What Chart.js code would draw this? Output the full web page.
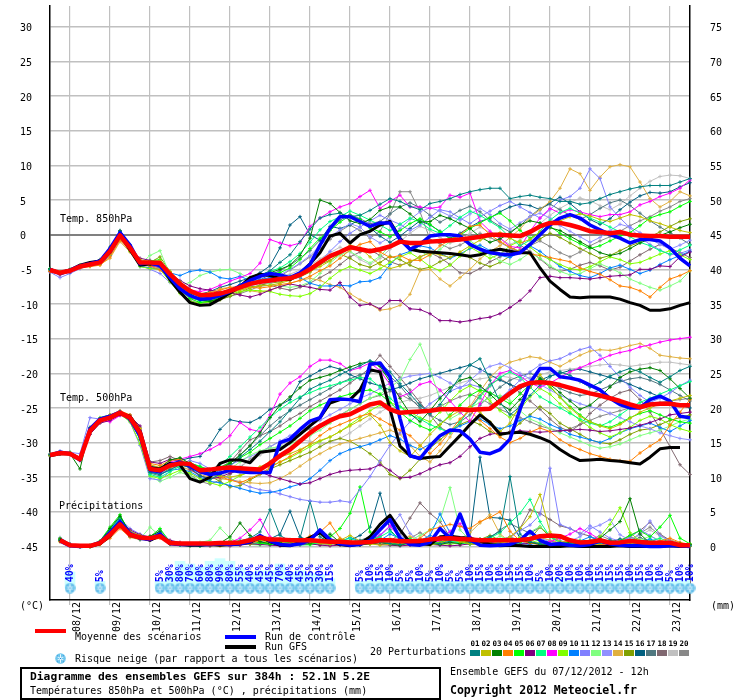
<!DOCTYPE html>
<html><head><meta charset="utf-8">
<script src="https://cdn.jsdelivr.net/npm/chart.js@4.4.1/dist/chart.umd.min.js"></script>
<style>
html,body{margin:0;padding:0;background:#fff;}
body{width:740px;height:700px;position:relative;overflow:hidden;font-family:'DejaVu Sans Mono',monospace;font-size:10px;color:#000;}
#wrap{position:absolute;left:0;top:0;width:740px;height:650px;}
.t{position:absolute;white-space:pre;line-height:12px;font-size:10px;}
.bar{position:absolute;width:31px;height:4px;}
.num{position:absolute;top:639px;width:10px;text-align:center;font-weight:bold;font-size:7.5px;line-height:9px;}
.sw{position:absolute;top:650px;width:10px;height:6px;}
#box{position:absolute;left:20px;top:667px;width:421px;height:33px;border:2px solid #000;box-sizing:border-box;}
</style></head><body>
<div id="wrap"><canvas id="c" width="740" height="650"></canvas></div>
<div class="t" style="left:20px;top:600px">(°C)</div>
<div class="t" style="left:711px;top:600px">(mm)</div>
<div class="bar" style="left:35px;top:629px;background:#ff0000"></div>
<div class="t" style="left:75px;top:631px">Moyenne des scénarios</div>
<div class="bar" style="left:225px;top:635px;background:#0000ff"></div>
<div class="t" style="left:265px;top:631px">Run de contrôle</div>
<div class="bar" style="left:225px;top:645px;background:#000000"></div>
<div class="t" style="left:265px;top:641px">Run GFS</div>
<canvas id="flakeLegend" width="11" height="11" style="position:absolute;left:55px;top:653px"></canvas>
<div class="t" style="left:75px;top:653px">Risque neige (par rapport a tous les scénarios)</div>
<div class="t" style="left:370px;top:646px">20 Perturbations</div>
<div id="pertLegend"></div>
<div id="box"></div>
<div class="t" style="left:30px;top:670px;font-weight:bold;font-size:11.3px;line-height:13px">Diagramme des ensembles GEFS sur 384h : 52.1N 5.2E</div>
<div class="t" style="left:30px;top:685px">Températures 850hPa et 500hPa (°C) , précipitations (mm)</div>
<div class="t" style="left:450px;top:666px">Ensemble GEFS du 07/12/2012 - 12h</div>
<div class="t" style="left:450px;top:684px;font-weight:bold;font-size:11.5px;line-height:13px">Copyright 2012 Meteociel.fr</div>
<script>
// ---------------- DATA ----------------
// time steps: every 6 h from 07/12/2012 12h (0 h) to +384 h
const stepHours = [];
for (let h = 0; h <= 384; h += 6) stepHours.push(h);
const dayLabels = ['08/12','09/12','10/12','11/12','12/12','13/12','14/12','15/12','16/12','17/12','18/12','19/12','20/12','21/12','22/12','23/12'];
const leftTicks = [-45,-40,-35,-30,-25,-20,-15,-10,-5,0,5,10,15,20,25,30];
const rightTicks = [0,5,10,15,20,25,30,35,40,45,50,55,60,65,70,75];
const pertNames = ['01','02','03','04','05','06','07','08','09','10','11','12','13','14','15','16','17','18','19','20'];
const pertColors = ['#008080','#c0c000','#008000','#ff8000','#00ff00','#800080','#00ff80','#ff00ff','#80ff00','#0080ff',
                    '#8080ff','#80ff80','#9090ff','#e0b040','#80a000','#006080','#507880','#806870','#c0c0c0','#888888'];

// snow risk (% of scenarios) per step
const snowPct = [null,null,40,null,null,5,null,null,null,null,null,5,30,80,70,60,80,90,80,55,40,45,45,70,40,45,35,30,15,null,null,
  5,10,15,10,5,5,10,5,10,5,5,10,15,10,10,15,15,10,5,10,20,10,10,10,15,15,15,10,15,10,10,5,10,10];

// Temperature 850 hPa (°C)
const t850Mean = [-5.1,-5.5,-5.2,-4.6,-4.3,-4.0,-2.4,-0.1,-1.9,-4.0,-4.0,-4.1,-5.7,
 -7.1,-8.1,-8.7,-8.7,-8.5,-8.1,-7.6,-7.1,-6.8,-6.6,-6.4,-6.3,-5.8,
 -5.0,-4.0,-3.1,-2.5,-1.8,-2.1,-2.4,-2.1,-1.7,-1.0,-1.2,-1.2,-1.0,
 -0.9,-0.8,-0.7,-0.5,-0.3,0.0,0.0,-0.1,-0.2,0.4,1.2,1.7,1.7,
 1.4,1.0,0.5,0.4,0.2,0.4,0.0,-0.1,-0.2,-0.2,-0.3,-0.3,-0.3];
const t850Ctrl = [-5.0,-5.6,-5.1,-4.5,-4.2,-3.8,-2.0,0.3,-1.5,-4.2,-4.0,-4.5,-6.2,
 -7.8,-8.8,-9.3,-9.2,-8.8,-8.2,-7.4,-6.6,-6.0,-5.6,-5.8,-6.2,-5.5,
 -4.3,-1.5,0.9,2.6,2.6,1.9,1.2,1.7,1.7,-0.7,-2.1,-1.4,-0.2,
 0.0,0.0,-0.2,-1.4,-2.1,-2.6,-2.8,-2.9,-2.6,-1.4,0.0,1.4,2.4,
 2.9,2.4,1.4,0.7,0.0,-0.5,-1.2,-0.7,-0.7,-0.9,-1.9,-3.4,-4.5];
const t850Gfs = [-5.0,-5.5,-5.1,-4.4,-4.0,-3.8,-2.5,0.0,-2.2,-4.4,-4.2,-4.3,-6.5,
 -8.3,-9.8,-10.2,-10.1,-9.3,-8.4,-7.5,-6.2,-5.7,-5.9,-6.3,-6.5,-5.6,
 -4.2,-2.6,-0.2,0.2,-1.2,0.0,0.5,1.4,1.9,-0.5,-2.1,-2.4,-2.5,
 -2.6,-2.7,-2.9,-3.1,-2.9,-2.4,-2.1,-2.4,-2.6,-2.6,-4.8,-6.7,-7.9,
 -9.0,-9.1,-9.0,-9.0,-9.0,-9.3,-9.8,-10.2,-10.9,-10.9,-10.7,-10.2,-9.8];
const t850Members = [
 [-5.0,-5.6,-5.3,-4.5,-4.2,-3.9,-2.0,0.4,-1.7,-3.8,-4.1,-4.3,-6.0, -7.4,-8.4,-9.0,-8.9,-8.6,-8.0,-7.2,-6.5,-5.9,-5.2,-4.0,-2.9,-1.0,
  0.8,2.4,2.9,3.1,2.6,2.8,3.5,4.4,5.2,4.8,4.1,3.6,4.5, 4.8,5.2,5.8,6.2,6.5,6.7,6.7,5.2,5.5,5.7,5.4,5.2,4.8, 4.8,4.4,4.6,5.2,5.8,6.2,6.6,6.9,7.1,7.1,7.1,7.6,8.1],
 [-5.2,-5.4,-5.1,-4.7,-4.5,-4.2,-2.8,-0.5,-2.2,-3.6,-3.9,-3.7,-5.3, -6.8,-7.9,-8.6,-8.9,-8.8,-8.5,-8.0,-7.6,-7.4,-7.3,-7.0,-6.6,-6.0,
  -5.3,-4.6,-3.8,-2.6,-1.5,-1.9,-3.2,-4.3,-4.9,-4.5,-3.9,-3.2,-2.6, -2.9,-3.3,-2.5,-1.6,-0.8,-0.2,0.3,-0.5,-1.2,-0.7,0.4,1.3,2.0, 2.6,3.0,2.7,2.2,1.9,2.4,2.9,2.6,2.0,1.6,1.1,0.6,0.3],
 [-4.9,-5.5,-5.2,-4.6,-4.1,-3.6,-1.8,0.5,-1.5,-4.1,-4.3,-4.0,-5.5, -7.0,-8.5,-9.4,-9.6,-9.2,-8.4,-7.5,-6.6,-5.9,-5.5,-5.0,-4.4,-3.0,
  -0.5,5.0,4.5,3.2,2.0,1.6,2.2,3.5,4.0,4.0,3.0,1.8,1.9, 2.8,2.3,1.6,0.9,-0.3,-1.1,-0.6,0.2,1.4,2.0,1.7,1.0,0.6, -0.2,-1.0,-1.8,-2.6,-3.0,-2.7,-2.0,-1.2,-0.6,-0.1,0.4,1.0,1.5],
 [-5.3,-5.7,-5.3,-4.8,-4.6,-4.4,-3.2,-0.8,-2.3,-4.2,-4.5,-5.1,-6.2, -7.5,-8.3,-8.6,-8.4,-8.0,-7.6,-7.5,-7.6,-7.7,-7.5,-7.2,-7.0,-6.6,
  -6.0,-5.2,-4.5,-3.4,-2.2,-1.4,-1.0,-2.5,-3.3,-3.0,-3.7,-3.7,-2.9, -1.6,-0.8,0.0,1.2,1.4,0.0,-1.0,-1.8,-2.5,-2.8,-3.0,-3.3,-3.6, -3.9,-4.8,-5.3,-5.7,-6.5,-7.4,-7.6,-8.1,-9.0,-7.6,-6.4,-5.9,-5.2],
 [-5.1,-5.4,-5.0,-4.4,-4.2,-3.8,-2.2,0.2,-1.8,-3.9,-3.8,-3.6,-5.6, -7.8,-9.2,-9.8,-9.6,-9.0,-8.2,-7.4,-6.6,-6.0,-5.6,-5.5,-4.8,-3.6,
  -2.0,-0.5,0.6,1.8,2.8,2.2,1.0,0.4,-0.3,0.6,1.6,2.3,1.5, 0.4,-0.6,-0.1,0.9,1.7,2.5,3.1,2.0,0.6,-0.5,0.3,1.2,0.2, -0.6,-1.3,-2.0,-1.6,-0.9,-0.2,0.3,1.3,2.4,2.9,3.3,4.1,4.8],
 [-5.3,-5.8,-5.4,-4.6,-4.4,-4.1,-2.7,-0.6,-2.1,-3.4,-3.7,-4.2,-5.6, -6.6,-7.4,-7.8,-8.0,-8.3,-8.4,-8.7,-9.0,-8.6,-8.0,-7.5,-7.1,-7.4,
  -7.6,-7.9,-8.0,-6.9,-9.0,-10.2,-10.0,-10.7,-9.5,-9.5,-10.7,-10.8,-11.4, -12.4,-12.4,-12.6,-12.4,-12.1,-11.9,-11.4,-10.5,-9.5,-8.1,-6.2,-6.0,-6.2, -6.2,-6.3,-6.4,-6.2,-6.0,-5.9,-5.8,-5.0,-5.0,-4.5,-4.6,-3.2,-2.5],
 [-5.0,-5.5,-5.1,-4.5,-4.3,-3.9,-2.1,0.3,-1.6,-4.3,-4.2,-4.4,-6.1, -7.6,-8.9,-9.6,-9.4,-8.9,-8.2,-7.3,-6.4,-5.8,-5.3,-4.8,-3.9,-2.7,
  -1.1,0.7,1.9,2.6,3.4,2.8,2.1,1.4,0.6,1.5,2.4,1.8,0.8, 0.2,1.3,2.5,3.4,2.8,1.9,1.0,-0.4,-1.6,-0.8,0.5,2.1,3.2, 3.8,3.1,2.4,1.8,1.1,0.4,-0.3,-1.1,-1.6,-2.3,-2.8,-2.2,-1.5],
 [-5.2,-5.6,-5.2,-4.7,-4.4,-4.0,-2.6,-0.3,-2.0,-4.1,-4.4,-4.6,-6.0, -7.2,-8.0,-8.2,-7.9,-7.3,-6.7,-6.2,-5.6,-4.1,-0.7,-1.2,-1.6,-1.2,
  1.2,2.4,3.3,4.0,4.5,5.5,6.4,3.8,4.8,5.7,4.0,4.0,3.8, 4.0,5.7,5.4,6.0,1.9,0.5,-0.5,-1.7,-1.9,0.5,2.4,3.8,3.1, 3.6,3.3,2.9,2.6,2.9,2.9,3.3,4.3,4.8,5.5,6.0,6.7,7.9],
 [-5.0,-5.4,-5.1,-4.6,-4.3,-4.1,-2.5,-0.2,-2.4,-4.6,-4.9,-5.0,-6.8, -8.5,-9.6,-9.9,-9.7,-9.2,-8.6,-8.2,-8.0,-8.1,-8.2,-8.6,-8.8,-8.9,
  -8.5,-7.6,-6.3,-5.2,-4.6,-5.1,-5.6,-4.9,-4.0,-3.2,-2.6,-3.5,-4.6, -5.2,-4.4,-3.1,-1.8,-2.6,-3.4,-2.8,-1.6,-0.9,-1.8,-2.9,-3.6,-4.3, -4.9,-5.1,-4.6,-3.9,-3.2,-3.6,-4.2,-4.0,-3.4,-2.8,-2.3,-2.9,-3.6],
 [-5.1,-5.5,-5.3,-4.7,-4.5,-4.3,-3.0,-0.6,-2.3,-4.6,-4.8,-5.0,-5.5, -5.9,-5.3,-5.1,-5.4,-6.2,-6.4,-6.0,-6.6,-6.5,-6.2,-6.1,-6.0,-6.2,
  -7.0,-7.4,-7.4,-7.3,-7.4,-6.8,-6.7,-6.2,-4.3,-2.9,-2.4,-1.6,-1.9, -2.7,-3.4,-2.8,-2.0,-1.5,-2.3,-3.0,-3.3,-2.5,-1.6,-2.4,-3.5,-4.6, -5.3,-5.9,-6.2,-5.6,-4.8,-4.4,-5.0,-5.6,-5.1,-4.3,-3.6,-3.0,-2.4],
 [-5.4,-6.2,-5.6,-4.9,-4.4,-4.2,-2.6,-0.4,-2.1,-4.4,-5.0,-5.6,-6.9, -8.0,-8.9,-9.3,-9.0,-8.6,-8.1,-7.7,-7.4,-7.0,-6.9,-6.6,-6.2,-5.9,
  -5.2,-3.9,-2.4,-1.0,0.2,1.1,2.0,2.8,2.1,1.5,0.6,1.4,2.5, 3.6,3.3,2.4,1.6,2.6,3.4,4.2,4.8,4.0,3.2,2.4,3.6,5.0, 5.5,6.7,9.5,8.1,4.0,2.4,1.0,-0.4,-1.4,-2.2,-2.9,-2.7,-2.2],
 [-5.0,-5.4,-5.0,-4.5,-4.2,-3.9,-2.3,0.0,-2.0,-4.3,-3.0,-2.3,-5.8, -7.3,-6.9,-5.9,-5.4,-5.1,-5.0,-5.6,-6.3,-6.8,-7.1,-7.4,-7.6,-7.4,
  -6.8,-5.6,-4.1,-2.9,-2.4,-3.3,-4.1,-3.1,-1.6,-0.7,-1.2,-2.4,-3.1, -2.1,-1.0,-0.2,-0.9,-1.8,-2.9,-3.8,-4.3,-3.6,-2.6,-3.4,-4.5,-5.3, -5.8,-5.6,-4.9,-4.2,-4.8,-5.5,-6.4,-7.0,-7.6,-8.0,-7.4,-6.7,-5.2],
 [-5.2,-5.6,-5.2,-4.5,-4.1,-3.7,-2.2,0.1,-1.9,-3.8,-4.0,-4.2,-5.9, -7.7,-9.0,-9.4,-9.0,-8.4,-7.8,-7.2,-6.9,-6.5,-6.2,-5.8,-5.0,-4.1,
  -3.0,-1.6,-0.3,0.7,1.6,1.1,-0.3,-1.2,-0.4,0.9,2.2,3.3,3.9, 3.4,2.7,2.1,3.0,3.8,2.9,1.6,0.8,1.7,2.6,3.1,2.4,1.3, 0.5,-0.3,-1.1,-0.4,0.6,1.5,1.1,0.3,-0.6,-1.4,-2.1,-1.5,-0.8],
 [-5.1,-5.5,-5.2,-4.7,-4.5,-4.3,-3.4,-1.0,-2.5,-4.0,-4.2,-4.5,-6.3, -7.6,-8.5,-8.7,-8.3,-7.8,-7.6,-7.8,-8.1,-8.3,-8.0,-7.5,-7.0,-6.6,
  -6.3,-6.6,-7.2,-7.6,-8.5,-9.4,-10.0,-10.9,-10.7,-10.2,-8.6,-5.2,-5.0, -6.4,-7.4,-6.2,-5.0,-3.5,-2.4,-1.6,-0.4,0.8,2.5,3.6,4.8,6.7, 9.5,8.8,6.4,8.3,9.8,10.1,9.8,7.6,5.2,4.0,4.8,6.2,5.6],
 [-5.0,-5.5,-5.1,-4.6,-4.4,-4.0,-2.4,-0.2,-2.2,-4.2,-4.0,-3.2,-5.3, -7.2,-8.8,-9.5,-9.7,-9.4,-8.9,-8.3,-7.7,-7.3,-7.0,-6.8,-6.5,-6.1,
  -5.4,-4.3,-3.7,-2.8,-3.4,-4.3,-4.7,-4.0,-3.1,-3.6,-4.4,-5.0,-4.7, -3.9,-3.3,-2.6,-3.3,-4.1,-4.6,-4.0,-3.1,-2.2,-1.4,-0.6,0.2,-0.4, -1.2,-2.0,-2.7,-3.4,-3.0,-2.3,-1.6,-1.1,-0.3,0.4,1.2,1.9,2.3],
 [-4.9,-5.4,-5.1,-4.5,-4.3,-4.0,-2.2,0.6,-1.5,-3.9,-4.1,-4.4,-6.0, -7.3,-8.3,-8.6,-8.2,-7.6,-7.2,-6.7,-6.2,-5.5,-4.5,-1.9,1.4,2.6,
  0.0,-0.8,1.2,0.9,1.4,2.2,1.0,-0.2,-1.1,-0.2,0.9,2.0,1.4, 0.5,-0.5,0.2,1.1,1.9,2.4,3.3,4.0,4.4,4.2,3.6,4.6,5.4, 4.5,3.3,2.2,1.5,2.3,3.6,4.7,5.6,6.1,6.0,6.2,6.9,7.5],
 [-5.1,-5.6,-5.3,-4.6,-4.2,-3.8,-2.0,0.5,-1.6,-4.0,-4.3,-4.4,-6.4, -8.1,-9.1,-9.5,-9.4,-8.9,-8.4,-7.7,-7.1,-6.5,-5.8,-5.2,-4.4,-3.4,
  -2.3,-0.8,0.8,2.1,2.9,2.3,1.6,1.9,3.0,4.0,4.6,3.9,2.8, 1.8,2.6,3.5,4.1,3.3,2.1,1.2,0.4,1.3,2.6,3.8,4.4,3.6, 2.8,2.2,2.9,3.8,4.6,5.0,4.2,3.1,2.0,1.1,0.3,-0.5,-1.4],
 [-5.2,-5.7,-5.3,-4.7,-4.4,-4.0,-2.6,-0.4,-2.2,-4.3,-4.5,-4.7,-6.3, -7.8,-8.9,-9.1,-8.8,-8.4,-8.0,-7.8,-7.5,-7.4,-7.3,-7.7,-8.0,-7.6,
  -7.0,-6.2,-5.4,-4.3,-3.2,-2.5,-2.2,-3.0,-3.9,-4.4,-4.0,-3.2,-2.6, -3.3,-4.3,-5.5,-5.6,-4.9,-3.9,-3.2,-2.3,-1.5,-2.4,-3.5,-4.7,-5.3, -5.0,-4.4,-4.0,-4.5,-5.1,-4.7,-3.8,-2.9,-2.1,-1.4,-1.9,-2.6,-3.3],
 [-5.0,-5.5,-5.2,-4.6,-4.3,-4.0,-2.5,-0.3,-2.1,-4.5,-4.7,-4.9,-6.5, -8.0,-9.3,-9.8,-9.6,-9.1,-8.5,-7.9,-7.2,-6.7,-6.3,-6.0,-5.7,-5.1,
  -4.4,-3.5,-2.6,-1.8,-2.5,-3.6,-4.3,-3.4,-2.1,-1.0,0.2,1.2,0.6, -0.4,-1.2,-0.8,0.2,1.1,0.3,-0.6,-1.4,-0.8,0.4,1.6,2.8,3.8, 4.6,5.3,4.9,4.2,3.6,4.4,5.6,6.7,7.7,8.4,8.6,8.5,8.1],
 [-5.2,-5.6,-5.2,-4.5,-4.3,-3.9,-2.3,-0.1,-1.8,-4.1,-4.5,-4.8,-6.6, -8.3,-9.5,-9.9,-9.7,-9.3,-8.9,-8.5,-8.0,-7.4,-6.7,-6.0,-5.1,-4.2,
  -3.2,-2.0,-0.7,0.5,1.4,0.6,-0.5,0.5,3.0,6.2,6.2,3.3,-0.7, -1.3,-2.0,-1.5,-0.7,0.2,-0.4,-1.1,-1.9,-2.4,-1.6,-0.9,-1.7,-2.6, -3.2,-2.5,-1.6,-0.9,-0.3,0.5,1.3,2.0,2.6,3.4,4.0,4.8,5.2]
];

// Temperature 500 hPa (°C)
const t500Mean = [-31.8,-31.5,-31.6,-32.4,-28.3,-26.8,-26.4,-25.7,-26.4,-28.6,-33.8,
 -34.0,-33.3,-33.0,-33.1,-34.0,-33.9,-33.7,-33.6,-33.7,-33.8,-33.9,
 -33.0,-31.9,-31.0,-29.8,-28.6,-27.6,-26.8,-26.2,-25.9,-25.2,-24.5,
 -24.2,-25.2,-25.7,-25.6,-25.5,-25.4,-25.2,-25.2,-25.2,-25.3,-25.2,
 -25.1,-24.0,-22.9,-21.9,-21.4,-21.3,-21.4,-21.7,-22.1,-22.5,-22.9,
 -23.2,-23.6,-24.0,-24.5,-24.9,-24.5,-24.4,-24.4,-24.6,-24.6];
const t500Ctrl = [-31.8,-31.4,-31.6,-32.5,-28.0,-26.6,-26.2,-25.6,-26.6,-29.0,-34.0,
 -34.2,-33.2,-32.8,-33.4,-34.2,-34.6,-34.4,-34.0,-34.2,-34.3,-34.3,
 -34.3,-30.0,-29.5,-28.1,-26.9,-26.4,-23.8,-23.7,-23.8,-24.1,-18.7,
 -18.5,-20.5,-26.5,-31.9,-32.3,-30.5,-29.0,-28.2,-28.3,-29.5,-31.4,
 -31.6,-31.0,-29.5,-25.2,-21.4,-19.3,-19.3,-20.5,-20.7,-21.0,-21.7,
 -22.4,-23.6,-24.5,-25.0,-25.0,-23.8,-23.3,-24.0,-26.2,-26.4];
const t500Gfs = [-31.9,-31.6,-31.6,-32.3,-28.4,-26.9,-26.3,-25.8,-26.2,-28.4,-33.6,
 -33.8,-33.0,-33.2,-35.2,-35.7,-35.0,-33.0,-32.5,-32.5,-32.9,-31.4,
 -31.2,-31.0,-30.0,-28.8,-27.6,-26.4,-24.3,-23.8,-23.8,-22.4,-19.5,
 -19.8,-25.2,-30.5,-31.9,-32.3,-32.1,-32.0,-30.5,-29.0,-27.4,-26.0,
 -27.1,-28.8,-28.6,-28.5,-28.8,-29.3,-29.9,-31.0,-31.9,-32.6,-32.5,
 -32.4,-32.6,-32.7,-32.9,-33.1,-32.1,-30.9,-30.7,-30.7,null];
const t500Members = [
 [-31.7,-31.4,-31.5,-32.3,-28.0,-26.6,-26.2,-25.5,-26.8,-29.5,-34.3, -34.6,-33.9,-33.2,-33.6,-34.8,-35.3,-34.6,-33.4,-32.1,-31.0,-29.8,
  -28.4,-27.0,-25.3,-23.6,-22.3,-21.6,-21.0,-20.2,-19.5,-18.9,-18.2, -18.6,-19.8,-21.5,-23.0,-24.6,-25.8,-24.5,-22.6,-20.4,-18.8,-17.9,
  -21.0,-24.2,-26.0,-24.8,-23.2,-21.7,-20.5,-19.8,-20.3,-21.2,-22.0, -21.3,-20.4,-19.8,-19.3,-19.8,-20.6,-21.3,-20.5,-19.6,-19.0],
 [-31.8,-31.6,-31.7,-32.5,-28.6,-27.0,-26.5,-25.8,-26.2,-28.0,-33.2, -33.6,-33.0,-32.8,-33.4,-34.3,-34.6,-34.8,-35.0,-34.7,-34.2,-33.5,
  -32.8,-32.1,-31.6,-31.0,-30.3,-29.7,-29.2,-28.4,-27.6,-26.8,-26.0, -27.5,-30.0,-31.2,-32.0,-30.5,-28.8,-27.4,-26.2,-25.4,-24.8,-25.6,
  -27.0,-28.4,-27.2,-24.6,-22.0,-20.2,-21.8,-23.5,-25.0,-26.2,-27.0, -27.6,-28.0,-27.4,-26.5,-25.6,-25.0,-24.4,-24.0,-23.6,-23.2],
 [-31.9,-31.6,-31.6,-33.8,-27.8,-26.7,-26.3,-25.8,-26.5,-28.9,-33.9, -33.7,-32.5,-32.2,-33.0,-33.9,-34.4,-33.8,-33.0,-31.8,-30.5,-28.6,
  -26.4,-24.6,-23.4,-22.1,-21.0,-20.6,-20.2,-19.6,-19.1,-18.6,-18.3, -19.0,-21.2,-23.6,-25.8,-27.0,-25.4,-23.6,-22.1,-21.0,-20.6,-21.8,
  -23.0,-24.4,-25.3,-23.8,-22.0,-20.8,-21.6,-22.8,-24.0,-25.2,-24.6, -23.4,-22.0,-20.6,-19.8,-19.4,-19.2,-19.6,-20.8,-22.2,-23.6],
 [-31.8,-31.5,-31.5,-32.3,-28.5,-26.5,-26.0,-25.4,-26.0,-28.0,-33.0, -33.3,-32.6,-32.4,-33.3,-34.0,-34.5,-34.9,-35.4,-35.8,-35.2,-34.5,
  -33.6,-32.8,-32.0,-31.2,-30.2,-29.0,-28.0,-27.4,-26.8,-26.2,-25.8, -26.6,-27.4,-28.2,-29.0,-30.4,-31.6,-30.2,-28.4,-26.6,-25.4,-26.8,
  -28.0,-29.2,-30.0,-29.4,-28.5,-27.9,-28.4,-29.6,-30.4,-31.0,-31.6, -32.0,-32.4,-32.6,-32.7,-31.5,-30.5,-29.6,-27.5,-25.6,-23.8],
 [-31.7,-31.5,-31.4,-32.2,-28.2,-26.4,-26.0,-25.6,-26.6,-29.0,-34.0, -34.2,-33.4,-32.7,-32.9,-33.5,-34.0,-33.6,-32.9,-32.2,-31.4,-30.3,
  -29.4,-28.5,-27.6,-26.5,-25.4,-24.6,-24.0,-23.4,-23.0,-22.6,-22.4, -23.0,-24.2,-25.6,-26.8,-27.6,-28.2,-27.4,-26.0,-24.6,-23.2,-22.4,
  -22.8,-23.6,-24.4,-23.0,-21.6,-20.8,-22.0,-23.4,-24.8,-26.0,-27.0, -27.5,-27.8,-27.2,-26.4,-25.8,-25.4,-26.0,-26.6,-27.0,-27.2],
 [-31.9,-31.6,-31.7,-32.6,-28.8,-27.2,-26.8,-26.0,-26.2,-27.6,-32.8, -33.0,-32.4,-32.6,-33.8,-34.8,-35.2,-35.0,-34.4,-34.0,-33.8,-34.2,
  -34.8,-35.2,-35.6,-36.0,-35.8,-35.2,-34.6,-34.2,-34.0,-33.9,-33.8, -33.2,-34.0,-35.1,-35.0,-34.5,-33.8,-33.2,-32.9,-32.0,-30.6,-29.4,
  -28.8,-28.6,-28.5,-28.3,-28.4,-28.5,-28.4,-28.3,-28.2,-28.1,-28.2, -28.4,-28.3,-28.1,-27.9,-27.5,-27.1,-26.6,-26.0,-25.8,-25.6],
 [-31.8,-31.4,-31.5,-32.4,-28.4,-26.9,-26.5,-25.9,-26.7,-29.3,-34.6, -35.0,-34.2,-33.4,-33.0,-33.4,-34.0,-33.2,-32.0,-30.6,-29.2,-27.8,
  -26.4,-25.2,-24.2,-23.4,-22.8,-22.2,-21.8,-21.4,-21.0,-20.6,-20.8, -22.0,-23.6,-24.8,-26.0,-26.6,-27.4,-28.0,-28.6,-27.0,-25.2,-23.4,
  -21.8,-20.6,-19.8,-20.6,-22.0,-23.4,-24.2,-25.0,-25.8,-26.6,-27.2, -27.6,-27.0,-26.0,-25.0,-24.2,-23.6,-23.0,-22.4,-21.8,-21.2],
 [-31.8,-31.5,-31.6,-32.4,-28.2,-26.8,-27.0,-26.1,-26.3,-28.4,-33.6, -33.8,-32.8,-32.4,-32.0,-31.6,-31.0,-30.2,-29.0,-27.1,-28.1,-28.4,
  -26.0,-23.0,-21.4,-20.5,-19.0,-18.1,-18.1,-18.6,-19.6,-19.2,-18.5, -19.6,-21.6,-23.4,-22.8,-21.6,-21.2,-22.4,-24.0,-25.6,-27.0,-24.4,
  -21.8,-20.0,-19.6,-20.4,-21.4,-22.0,-21.4,-20.6,-19.8,-19.2,-18.6, -18.0,-17.4,-17.0,-16.7,-16.2,-15.9,-15.5,-15.2,-15.0,-14.8],
 [-31.7,-31.5,-31.5,-32.3,-28.4,-26.8,-26.4,-25.9,-27.0,-30.2,-34.8, -35.2,-34.6,-34.0,-34.4,-35.2,-35.8,-36.2,-35.6,-34.8,-34.2,-33.8,
  -33.4,-32.8,-32.2,-31.4,-30.6,-29.8,-29.2,-28.4,-27.4,-26.4,-25.4, -24.6,-24.2,-24.8,-25.6,-26.4,-27.0,-25.6,-24.0,-22.6,-21.8,-22.6,
  -24.0,-25.4,-26.4,-25.2,-23.4,-22.2,-23.0,-24.4,-25.6,-26.8,-27.8, -28.6,-29.2,-28.6,-27.8,-26.8,-26.2,-26.6,-27.4,-28.0,-28.4],
 [-31.8,-31.5,-31.6,-32.4,-28.5,-26.9,-26.5,-25.8,-26.4,-28.8,-34.2, -34.6,-34.0,-33.8,-34.2,-35.0,-35.6,-35.8,-36.2,-36.6,-37.0,-37.3,
  -37.2,-36.9,-36.4,-36.0,-35.2,-34.0,-32.6,-31.6,-31.0,-30.6,-30.2, -29.6,-29.0,-29.5,-30.4,-31.0,-30.2,-29.0,-28.3,-27.6,-27.0,-26.6,
  -27.4,-28.0,-27.6,-26.8,-26.2,-26.6,-27.4,-28.0,-28.8,-29.2,-29.6, -30.0,-29.4,-28.6,-28.0,-27.6,-27.2,-27.8,-28.4,-27.6,-26.8],
 [-31.6,-31.2,-31.4,-31.6,-26.4,-26.6,-26.2,-25.6,-27.0,-30.4,-35.2, -35.4,-34.2,-33.0,-32.6,-33.0,-33.8,-34.6,-35.2,-35.8,-36.4,-36.8,
  -37.0,-37.4,-37.8,-38.2,-38.4,-38.6,-38.6,-38.4,-38.6,-36.8,-34.9, -32.6,-30.4,-28.6,-27.0,-25.6,-24.4,-23.4,-22.6,-22.0,-21.6,-22.0,
  -22.8,-23.6,-22.4,-21.0,-19.8,-18.8,-18.2,-17.9,-17.2,-16.6,-16.2, -17.4,-19.0,-20.6,-22.0,-23.2,-24.2,-23.6,-22.8,-21.8,-21.0],
 [-31.8,-31.5,-31.5,-32.3,-28.1,-26.7,-26.3,-25.7,-26.6,-29.6,-34.9, -35.6,-35.0,-34.3,-34.8,-35.6,-35.4,-34.6,-33.8,-32.8,-31.8,-31.2,
  -30.8,-30.6,-30.2,-29.6,-29.0,-28.2,-27.2,-26.2,-25.2,-24.4,-23.6, -23.0,-22.0,-21.0,-18.0,-15.8,-19.4,-23.8,-26.6,-25.8,-25.0,-24.2,
  -23.6,-23.2,-24.0,-25.4,-26.6,-27.2,-28.0,-28.6,-29.2,-29.8,-30.4, -30.8,-30.6,-30.2,-29.6,-29.0,-28.6,-28.2,-27.6,-27.0,-26.6],
 [-31.8,-31.6,-31.6,-32.4,-28.6,-27.0,-26.6,-25.9,-26.2,-28.2,-33.4, -33.6,-33.0,-32.8,-33.2,-33.8,-34.2,-33.8,-33.2,-32.6,-32.0,-31.4,
  -30.6,-29.8,-29.0,-28.2,-27.6,-26.8,-26.0,-25.2,-24.4,-23.6,-23.0, -22.2,-21.4,-20.8,-20.4,-20.2,-20.0,-20.6,-21.4,-22.2,-21.0,-19.8,
  -19.0,-18.6,-19.2,-20.0,-20.8,-21.6,-22.4,-23.2,-23.8,-24.4,-24.8, -25.2,-25.8,-26.4,-27.0,-27.6,-28.0,-28.6,-29.0,-29.4,-29.6],
 [-31.8,-31.5,-31.5,-32.3,-28.2,-26.7,-26.2,-26.0,-26.8,-29.0,-34.0, -34.3,-33.7,-33.4,-34.0,-34.6,-35.0,-35.2,-35.4,-35.6,-35.8,-35.9,
  -35.8,-35.2,-34.4,-33.4,-32.4,-31.6,-30.8,-30.2,-29.8,-29.4,-29.0, -28.6,-28.2,-28.8,-30.4,-32.0,-32.8,-31.2,-29.2,-27.0,-24.8,-22.6,
  -20.6,-19.2,-18.4,-18.0,-17.6,-17.8,-18.4,-19.0,-18.2,-17.4,-16.8, -16.6,-16.7,-16.4,-16.0,-15.7,-16.4,-17.4,-17.6,-17.8,-17.9],
 [-31.7,-31.5,-31.6,-32.5,-28.4,-26.8,-26.4,-25.6,-26.4,-28.5,-33.6, -34.0,-33.4,-33.2,-33.6,-34.2,-34.8,-35.6,-36.4,-36.2,-35.4,-34.6,
  -33.8,-33.2,-32.6,-32.0,-31.4,-30.6,-29.8,-29.4,-29.8,-30.6,-31.6, -32.8,-34.6,-35.2,-34.0,-32.4,-30.8,-29.6,-28.4,-27.4,-26.8,-27.4,
  -28.4,-29.0,-28.4,-27.2,-26.0,-24.8,-25.8,-27.2,-28.0,-28.8,-29.6, -30.0,-30.2,-29.6,-28.8,-28.2,-28.0,-27.4,-26.8,-26.4,-26.0],
 [-31.8,-31.5,-31.5,-32.4,-28.3,-26.7,-26.3,-25.6,-26.4,-28.7,-33.8, -34.0,-33.4,-32.6,-32.2,-32.0,-30.4,-28.1,-26.7,-27.0,-27.1,-26.4,
  -25.2,-24.6,-23.8,-21.2,-20.4,-19.6,-19.0,-19.4,-20.2,-20.8,-21.4, -21.8,-22.4,-22.0,-21.4,-20.8,-20.4,-20.0,-19.6,-19.2,-18.8,-19.4,
  -20.2,-21.0,-21.6,-22.2,-21.6,-21.0,-20.4,-20.0,-19.6,-19.4,-19.8, -20.2,-20.6,-21.0,-21.6,-22.2,-22.8,-23.4,-24.0,-24.6,-25.0],
 [-31.8,-31.5,-31.6,-32.4,-28.2,-26.9,-26.4,-25.7,-26.5,-28.7,-34.4, -34.8,-33.6,-32.8,-33.2,-34.0,-34.6,-34.0,-33.0,-31.8,-30.4,-29.0,
  -27.6,-26.4,-25.4,-24.6,-23.8,-23.0,-22.2,-21.4,-20.8,-20.2,-19.8, -19.6,-20.4,-21.8,-23.6,-25.0,-26.0,-26.8,-27.4,-27.0,-26.0,-24.6,
  -23.2,-22.0,-21.0,-20.4,-20.0,-20.6,-21.4,-22.2,-22.8,-23.2,-23.0, -22.4,-21.8,-21.2,-20.8,-20.6,-21.0,-21.6,-22.4,-23.2,-24.0],
 [-31.8,-31.6,-31.6,-32.5,-28.8,-27.0,-26.6,-25.8,-26.0,-27.8,-32.8, -32.6,-32.0,-32.6,-33.4,-34.0,-34.4,-33.6,-32.8,-31.2,-29.6,-29.0,
  -28.4,-27.6,-26.6,-25.8,-24.8,-24.0,-23.2,-22.4,-21.4,-20.4,-19.2, -17.4,-19.0,-20.6,-22.4,-24.2,-26.0,-27.8,-28.6,-27.0,-25.0,-23.2,
  -21.6,-20.8,-21.6,-22.8,-24.0,-25.2,-26.6,-27.8,-28.4,-27.4,-25.8, -24.6,-23.6,-22.8,-22.4,-23.8,-25.6,-28.0,-30.6,-33.2,-34.6],
 [-31.7,-31.4,-31.5,-32.3,-28.1,-26.6,-26.2,-25.5,-26.6,-29.1,-34.2, -34.5,-33.8,-33.4,-33.9,-34.8,-35.2,-34.8,-34.2,-33.4,-32.6,-31.8,
  -31.0,-30.4,-29.8,-29.6,-29.8,-30.2,-30.0,-29.4,-28.6,-27.6,-26.6, -25.6,-24.8,-24.2,-23.8,-23.6,-23.2,-22.6,-22.0,-21.4,-21.0,-20.8,
  -20.6,-20.4,-20.6,-21.0,-20.6,-20.2,-19.8,-19.6,-19.4,-19.2,-19.0, -18.8,-18.7,-18.8,-19.0,-18.8,-18.6,-18.4,-18.4,-18.6,-18.8],
 [-31.8,-31.5,-31.6,-32.4,-28.4,-26.8,-26.6,-25.8,-26.5,-28.9,-34.0, -34.0,-33.2,-33.6,-34.6,-35.6,-36.0,-35.4,-34.6,-33.6,-32.4,-31.4,
  -30.6,-29.8,-29.4,-28.8,-28.0,-27.4,-26.8,-26.0,-25.2,-24.4,-23.6, -23.2,-22.6,-23.0,-23.8,-24.6,-25.4,-24.8,-24.0,-23.4,-23.0,-23.6,
  -24.4,-25.2,-25.8,-26.4,-27.0,-27.6,-28.0,-28.4,-28.0,-27.4,-26.8, -26.2,-25.8,-25.4,-25.0,-24.6,-24.4,-24.2,-24.0,-23.8,-23.6]
];

// Precipitation (mm per 6 h)
const prMean = [null,0.9,0.2,0.1,0.1,0.5,1.7,3.2,1.7,1.3,1.2,1.5,0.5,
 0.45,0.45,0.45,0.45,0.5,0.5,0.6,0.9,1.3,1.0,1.0,0.9,0.9,
 0.9,0.8,0.7,0.7,0.6,0.6,0.65,0.9,0.9,0.8,0.75,0.8,1.0,
 1.15,1.2,1.1,1.0,0.9,0.9,0.9,0.9,0.95,1.1,1.5,1.6,1.5,
 0.9,0.6,0.65,0.9,0.55,0.6,0.8,0.65,0.55,0.55,0.55,0.2,0.2];
const prCtrl = [null,0.8,0.1,0.0,0.1,0.6,2.0,3.6,1.9,1.2,1.0,1.8,0.4,
 0.3,0.3,0.3,0.3,0.4,0.3,0.4,0.7,1.6,0.8,0.3,0.2,0.4,
 0.9,2.4,1.0,0.4,0.2,0.3,0.9,2.4,3.9,1.2,0.3,0.2,0.6,
 2.6,1.2,4.7,1.0,0.2,0.1,0.2,0.3,0.9,2.2,0.9,0.3,0.4,
 0.2,0.1,0.3,0.8,0.4,0.2,0.1,0.1,0.0,0.0,0.1,0.1,0.0];
const prGfs = [null,1.0,0.2,0.0,0.0,0.4,1.5,3.4,1.6,1.4,0.9,1.6,0.5,
 0.3,0.2,0.2,0.3,0.2,0.3,0.4,0.6,1.4,0.7,0.2,0.1,0.6,
 1.3,2.0,0.8,0.3,0.1,0.4,1.4,3.2,4.5,2.4,0.6,0.4,0.3,
 1.4,1.5,1.3,1.2,0.8,0.3,0.1,0.2,0.1,0.0,0.0,0.0,0.0,
 0.1,0.0,0.0,0.0,0.0,0.1,0.0,0.0,0.0,0.0,0.1,0.0,0.0];
const prMembers = [
 [null,0.9,0.2,0.1,0.0,0.6,2.2,3.9,1.5,1.0,1.3,1.9,0.4, 0.3,0.2,0.1,0.2,0.4,0.3,0.5,1.2,2.1,5.3,1.6,0.8,1.2,
  6.5,1.4,0.6,0.3,0.5,0.8,1.0,0.6,0.4,0.3,0.5,0.9,0.6, 0.4,0.8,1.2,0.6,0.9,1.4,2.2,10.1,1.8,0.7,0.4,0.3,0.6, 0.4,0.2,0.3,0.6,0.9,0.5,0.2,0.1,0.3,0.6,0.4,0.2,0.1],
 [null,0.7,0.1,0.0,0.1,0.4,1.8,3.3,2.2,1.6,1.1,1.4,0.6, 0.4,0.3,0.2,0.1,0.2,0.4,0.6,0.9,1.1,0.6,0.3,0.2,0.4,
  0.7,0.5,0.3,0.9,1.6,0.8,0.4,0.2,0.3,0.9,0.6,0.3,0.2, 0.5,1.0,0.7,0.4,0.2,0.3,0.8,1.4,2.6,4.3,7.5,2.1,0.6, 0.3,0.2,0.4,0.2,0.1,0.3,0.5,0.8,0.4,0.2,0.3,0.1,0.0],
 [null,1.1,0.3,0.1,0.1,0.7,2.6,4.4,2.0,1.3,1.5,2.2,0.5, 0.3,0.2,0.2,0.3,0.5,1.4,3.4,1.6,0.7,0.4,0.6,1.0,0.8,
  0.5,0.9,1.8,0.6,0.3,0.2,0.4,0.6,0.3,0.2,0.5,0.8,0.4, 0.3,0.6,0.4,0.8,1.1,0.5,0.2,0.4,0.9,0.6,0.3,0.2,0.4, 0.6,0.3,0.5,1.2,2.4,3.6,6.9,1.8,0.5,0.3,0.2,0.4,0.3],
 [null,0.8,0.2,0.0,0.0,0.3,1.2,2.6,1.4,1.1,0.9,1.2,0.7, 0.5,0.4,0.3,0.2,0.1,0.2,0.3,0.5,0.8,1.2,0.6,0.4,0.9,
  1.5,2.1,3.4,1.2,0.6,0.3,0.5,1.0,0.7,0.4,0.6,1.2,2.4, 2.8,3.2,2.9,2.6,3.6,4.2,5.0,2.2,0.8,0.5,0.3,0.4,0.6, 0.8,0.5,0.3,0.2,0.4,0.6,0.3,0.2,0.5,0.8,1.2,0.6,0.3],
 [null,1.0,0.2,0.1,0.2,0.8,2.8,4.6,1.8,1.2,1.4,2.6,0.6, 0.3,0.2,0.1,0.2,0.3,0.4,0.6,0.9,0.5,0.3,0.4,0.6,0.5,
  0.3,0.8,1.4,2.6,4.8,8.6,2.1,0.7,0.4,0.6,1.1,0.5,0.3, 0.6,1.0,0.7,0.4,0.8,0.5,0.3,0.2,0.6,1.2,0.8,0.4,0.3, 0.2,0.4,0.6,0.9,0.5,0.8,1.6,2.3,1.4,2.8,4.5,1.2,0.4],
 [null,0.9,0.2,0.0,0.1,0.5,2.0,3.6,2.4,1.7,1.2,1.8,0.9, 0.6,0.4,0.3,0.2,0.2,0.1,0.2,0.4,0.3,0.2,0.1,0.2,0.3,
  0.4,0.2,0.1,0.2,0.3,0.2,0.5,0.3,0.2,0.1,0.2,0.4,0.3, 0.2,0.1,0.2,0.4,0.3,0.6,0.4,0.2,0.3,0.5,0.3,0.2,0.1, 0.2,0.3,0.1,0.2,0.4,0.2,0.1,0.3,0.2,0.1,0.2,0.1,0.0],
 [null,0.8,0.1,0.0,0.1,0.6,2.3,4.1,1.9,1.4,1.0,1.6,0.4, 0.2,0.3,0.4,0.3,0.2,0.5,0.9,0.6,0.3,0.5,0.8,0.4,0.2,
  0.3,0.6,0.4,0.8,1.2,0.6,0.9,1.4,2.2,1.0,0.5,0.3,0.6, 1.1,0.8,0.5,0.3,0.6,1.2,2.0,3.4,4.8,6.8,3.6,1.4,0.6, 0.4,0.8,0.6,0.4,0.9,0.6,0.3,0.5,0.8,1.2,0.6,0.3,0.2],
 [null,0.9,0.3,0.1,0.1,0.5,2.1,3.8,2.0,1.5,1.3,1.7,0.5, 0.3,0.2,0.2,0.1,0.3,0.6,1.2,2.4,3.9,1.4,0.6,0.3,0.2,
  0.4,0.8,0.5,0.3,0.6,0.4,0.9,1.6,3.0,1.2,0.4,0.3,0.6, 0.8,2.2,3.3,1.4,0.6,0.4,0.3,0.5,0.8,0.6,0.4,0.7,1.2, 1.8,2.6,1.9,1.0,0.6,0.4,0.3,0.2,0.5,0.7,0.4,0.2,0.1],
 [null,1.2,0.3,0.1,0.0,0.4,1.6,3.0,1.7,1.2,1.0,1.4,0.3, 0.2,0.1,0.1,0.2,0.4,0.8,0.5,0.3,0.4,0.7,1.0,0.6,0.4,
  0.5,0.3,0.6,1.1,0.7,0.4,0.6,1.0,0.8,0.5,0.3,0.4,0.7, 0.5,0.3,0.6,0.9,0.5,0.3,0.5,0.8,1.3,0.9,0.5,0.3,0.4, 0.6,0.9,0.5,1.4,3.2,5.6,2.0,0.8,0.4,0.3,0.5,0.3,0.2],
 [null,0.8,0.2,0.0,0.1,0.6,2.4,4.2,2.2,1.6,1.4,2.0,0.5, 0.3,0.2,0.2,0.3,0.4,0.3,0.6,1.0,0.7,0.4,0.3,0.5,0.7,
  0.9,0.6,0.4,0.7,1.3,0.8,0.5,0.9,1.8,1.2,0.6,0.8,1.6, 4.7,2.0,0.8,1.2,0.7,0.4,0.6,0.9,0.5,0.3,0.6,0.4,0.3, 0.5,0.8,1.4,0.9,0.5,0.3,0.2,0.6,1.1,0.5,0.3,0.2,0.1],
 [null,1.3,0.4,0.1,0.1,0.7,2.5,4.0,2.6,1.8,1.3,2.4,0.8, 0.4,0.3,0.2,0.2,0.3,0.5,0.4,0.6,0.9,1.3,0.7,0.5,0.4,
  0.6,0.3,0.5,0.9,0.6,0.4,0.7,1.5,2.9,1.6,0.8,0.5,0.3, 0.6,0.4,0.8,1.2,0.7,0.5,0.9,1.4,2.3,3.1,4.6,11.3,3.2, 2.6,1.8,3.0,2.1,1.2,0.8,1.3,2.4,1.6,0.7,0.4,0.3,0.2],
 [null,0.9,0.2,0.1,0.0,0.5,1.9,3.5,1.6,1.1,2.8,1.5,0.4, 0.3,0.4,0.6,0.9,2.7,1.2,0.5,0.3,0.2,0.4,0.8,0.5,0.3,
  0.2,0.4,0.7,0.5,0.3,0.6,0.4,0.8,1.2,0.6,0.9,1.6,2.4, 3.8,8.5,2.4,0.9,0.5,0.8,1.5,0.9,0.6,2.1,2.9,1.6,0.8, 0.5,0.4,0.3,0.6,0.8,0.5,0.3,0.9,1.5,0.9,0.4,0.2,0.3],
 [null,1.0,0.2,0.0,0.1,0.6,2.2,3.7,1.8,1.5,1.2,1.8,0.6, 0.4,0.2,0.1,0.1,0.2,0.3,0.4,0.7,0.5,0.3,0.2,0.4,0.6,
  0.8,0.5,0.3,0.6,0.4,0.2,0.9,1.7,2.9,4.6,1.9,0.8,0.5, 0.7,1.0,0.6,0.4,0.3,0.5,0.9,0.6,0.4,0.8,1.2,0.7,0.4, 0.8,1.4,2.6,3.1,3.9,1.7,0.9,1.8,3.7,1.6,0.8,0.4,0.2],
 [null,0.7,0.1,0.0,0.0,0.3,1.4,2.9,1.3,1.0,0.9,1.3,0.6, 0.4,0.3,0.2,0.3,0.4,0.2,0.3,0.6,0.9,0.5,0.3,0.2,0.4,
  0.6,0.3,0.2,0.4,0.8,0.5,0.3,0.5,0.4,0.9,1.5,0.8,0.5, 0.3,0.6,1.1,2.0,3.4,4.6,1.8,0.7,0.4,0.8,1.3,0.9,0.5, 0.4,0.3,0.6,0.9,0.6,0.3,0.5,0.4,0.2,0.6,0.9,0.5,0.2],
 [null,1.1,0.3,0.1,0.1,0.4,1.7,3.2,1.9,1.3,1.1,1.6,0.5, 0.3,0.2,0.3,0.4,0.3,0.2,0.4,0.6,0.4,0.3,0.5,0.9,0.6,
  0.4,0.7,1.0,0.6,0.3,0.5,0.8,0.6,0.4,0.3,0.6,0.9,0.5, 0.3,0.5,0.8,0.6,1.0,1.6,0.9,0.5,0.7,1.1,2.8,1.4,0.6, 0.4,0.6,0.9,0.5,0.3,0.7,1.4,0.8,0.5,0.3,0.6,0.4,0.2],
 [null,0.9,0.2,0.1,0.0,0.5,2.0,3.7,1.7,1.2,1.1,1.7,0.5, 0.2,0.1,0.2,0.3,0.5,0.8,0.6,0.4,0.7,1.1,1.8,5.1,1.4,
  0.8,0.5,0.4,0.6,0.9,1.6,2.8,7.7,2.4,0.9,0.5,0.7,1.2, 0.8,0.5,0.7,1.4,12.9,4.2,4.1,3.8,1.2,0.6,0.4,0.8,0.5, 0.3,0.5,0.8,0.4,0.6,1.1,0.7,0.4,0.3,0.5,0.8,0.4,0.2],
 [null,1.0,0.2,0.0,0.1,0.6,2.3,4.3,2.1,1.4,1.2,1.9,0.6, 0.4,0.3,0.2,0.2,0.3,0.5,0.8,1.2,0.6,0.4,0.3,0.5,0.8,
  1.2,0.7,0.4,0.3,0.5,0.9,1.4,0.8,0.5,0.4,0.7,1.1,0.6, 0.4,0.6,0.9,0.5,0.7,1.2,2.4,3.3,2.6,1.9,2.8,1.5,0.8, 0.6,0.4,0.7,1.0,0.6,0.4,0.8,1.3,0.7,0.5,0.3,0.2,0.1],
 [null,0.8,0.2,0.0,0.1,0.4,1.8,3.4,1.8,1.3,1.0,1.5,0.4, 0.2,0.1,0.2,0.2,0.3,0.4,0.3,0.5,0.7,0.4,0.3,0.6,0.9,
  0.6,0.4,0.3,0.5,0.8,0.5,0.9,1.2,0.8,1.8,4.1,6.3,4.8, 3.6,1.4,0.6,0.9,0.6,0.4,0.7,1.2,2.6,5.3,4.8,3.9,3.0, 2.6,1.9,1.5,0.8,0.5,0.9,1.6,2.3,3.5,1.8,0.9,0.5,0.3],
 [null,1.0,0.3,0.1,0.1,0.6,2.1,3.9,2.0,1.4,1.2,1.8,0.5, 0.3,0.2,0.1,0.2,0.3,0.3,0.5,0.8,0.6,0.3,0.2,0.3,0.5,
  0.7,0.4,0.3,0.2,0.4,0.6,0.9,1.3,0.7,0.4,0.6,1.0,1.4, 0.8,0.5,0.3,0.6,0.9,0.5,0.4,0.7,1.1,1.8,1.4,0.9,0.5, 0.3,0.5,0.8,0.6,0.4,0.7,1.1,1.6,2.4,1.5,0.8,0.4,0.2],
 [null,0.9,0.2,0.1,0.0,0.5,1.9,3.6,1.9,1.3,1.3,1.8,0.5, 0.3,0.2,0.2,0.1,0.2,0.4,0.7,0.9,0.6,0.4,0.3,0.5,0.7,
  0.5,0.3,0.6,1.0,0.6,0.4,0.8,1.2,0.7,0.5,1.2,2.0,1.1, 0.6,0.4,0.7,0.5,0.3,0.6,1.0,1.4,0.9,0.6,0.4,0.8,1.3, 0.7,0.5,0.9,1.6,1.0,0.6,0.8,1.9,2.8,1.6,0.9,0.5,0.3]
];

// ---------------- RENDER ----------------
const FONT = 'DejaVu Sans Mono';
const stepLabels = stepHours.map(h => {
  const t = 12 + h; const d = 7 + Math.floor(t / 24); const hh = t % 24;
  return (d < 10 ? '0' + d : '' + d) + '/12 ' + (hh < 10 ? '0' + hh : hh) + 'h';
});
const isDay = i => (12 + stepHours[i]) % 24 === 0;
const dayOf = i => dayLabels[(12 + stepHours[i]) / 24 - 1];

function makeFlake() {
  const c = document.createElement('canvas'); c.width = 11; c.height = 11;
  drawFlake(c.getContext('2d'));
  return c;
}
function drawFlake(g) {
  g.fillStyle = '#6cc6ee'; g.beginPath(); g.arc(5.5, 5.5, 5.3, 0, Math.PI * 2); g.fill();
  g.strokeStyle = '#e8f8ff'; g.lineWidth = 1;
  for (let k = 0; k < 3; k++) {
    const a = k * Math.PI / 3 + Math.PI / 2;
    g.beginPath(); g.moveTo(5.5 + 4.3 * Math.cos(a), 5.5 + 4.3 * Math.sin(a));
    g.lineTo(5.5 - 4.3 * Math.cos(a), 5.5 - 4.3 * Math.sin(a)); g.stroke();
  }
  g.fillStyle = '#2f86d0';
  [[2.5,3],[8.5,3],[2.5,8],[8.5,8],[5.5,5.5]].forEach(p => g.fillRect(p[0]-0.5, p[1]-0.5, 1, 1));
}
drawFlake(document.getElementById('flakeLegend').getContext('2d'));
const flakeImg = makeFlake();

// perturbation legend
const pl = document.getElementById('pertLegend');
pertNames.forEach((n, k) => {
  const d = document.createElement('div'); d.className = 'num'; d.style.left = (470 + 11 * k) + 'px'; d.textContent = n; pl.appendChild(d);
  const s = document.createElement('div'); s.className = 'sw'; s.style.left = (470 + 11 * k) + 'px'; s.style.background = pertColors[k]; pl.appendChild(s);
});

const datasets = [];
function pert(data, color, axis) {
  return { type: 'line', data, yAxisID: axis, borderColor: color, backgroundColor: color, pointBorderColor: color,
           borderWidth: 1, pointStyle: 'cross', pointRadius: 1.8, pointBorderWidth: 1, tension: 0, fill: false, order: 10 };
}
function main(data, color, width, axis, order) {
  return { type: 'line', data, yAxisID: axis, borderColor: color, backgroundColor: color, borderWidth: width,
           pointRadius: 0, tension: 0, fill: false, order, borderJoinStyle: 'round' };
}
t850Members.forEach((d, k) => datasets.push(pert(d, pertColors[k], 'y')));
t500Members.forEach((d, k) => datasets.push(pert(d, pertColors[k], 'y')));
prMembers.forEach((d, k) => datasets.push(pert(d, pertColors[k], 'yR')));
[[t850Gfs,'y'],[t500Gfs,'y'],[prGfs,'yR']].forEach(a => datasets.push(main(a[0], '#000000', 3, a[1], 3)));
[[t850Ctrl,'y'],[t500Ctrl,'y'],[prCtrl,'yR']].forEach(a => datasets.push(main(a[0], '#0000ff', 3.5, a[1], 2)));
[[t850Mean,'y'],[t500Mean,'y'],[prMean,'yR']].forEach(a => datasets.push(main(a[0], '#ff0000', 4.5, a[1], 1)));
const snowIconLevel = -20;
datasets.push({ type: 'bar', yAxisID: 'yS', data: snowPct.map(p => p == null ? null : [snowIconLevel, p]),
  backgroundColor: '#ccffff', borderWidth: 0, barThickness: 10, order: 40 });
datasets.push({ type: 'line', yAxisID: 'yS', data: snowPct.map(p => p == null ? null : snowIconLevel), showLine: false,
  pointStyle: flakeImg, pointRadius: 5, order: 35 });

const annot = {
  id: 'annot',
  beforeDatasetsDraw(chart) {
    const ctx = chart.ctx, x = chart.scales.x, y = chart.scales.y, yR = chart.scales.yR;
    ctx.save();
    ctx.fillStyle = '#000'; ctx.font = '10px "' + FONT + '"'; ctx.textAlign = 'left'; ctx.textBaseline = 'alphabetic';
    ctx.fillText('Temp. 850hPa', x.getPixelForValue(1), y.getPixelForValue(1.8));
    ctx.fillText('Temp. 500hPa', x.getPixelForValue(1), y.getPixelForValue(-24.0));
    ctx.fillText('Précipitations', x.getPixelForValue(1) - 1, yR.getPixelForValue(5.45));
    ctx.restore();
  },
  afterDatasetsDraw(chart) {
    const ctx = chart.ctx, x = chart.scales.x, yS = chart.scales.yS;
    ctx.save();
    ctx.fillStyle = '#0000ff'; ctx.font = 'bold 10px "' + FONT + '"'; ctx.textAlign = 'left'; ctx.textBaseline = 'middle';
    snowPct.forEach((p, i) => {
      if (p == null) return;
      ctx.save(); ctx.translate(x.getPixelForValue(i), yS.getPixelForValue(0) - 0.5); ctx.rotate(-Math.PI / 2);
      ctx.fillText(p + '%', 0, 0); ctx.restore();
    });
    ctx.restore();
  }
};

Chart.defaults.font.family = FONT;
Chart.defaults.font.size = 10;
Chart.defaults.color = '#000';

new Chart(document.getElementById('c'), {
  type: 'line',
  data: { labels: stepLabels, datasets },
  plugins: [annot],
  options: {
    responsive: false, animation: false, events: [],
    layout: { padding: { left: 20, right: 0, top: 0, bottom: 0 } },
    plugins: { legend: { display: false }, tooltip: { enabled: false } },
    scales: {
      x: {
        type: 'category', offset: false,
        grid: { offset: false, color: c => isDay(c.index) ? '#c0c0c0' : 'rgba(0,0,0,0)', lineWidth: 1.2, tickLength: 5 },
        border: { color: '#000', width: 1.5 },
        ticks: { autoSkip: false, minRotation: 90, maxRotation: 90, padding: -3, labelOffset: 7,
                 font: { family: FONT, size: 10 },
                 callback: (v, i) => isDay(i) ? dayOf(i) : '' },
        afterFit: s => { s.height = 50; s.paddingLeft = 0; s.paddingRight = 0; }
      },
      y: {
        position: 'left', min: 33 - 600 / 7, max: 33,
        grid: { color: c => (c.tick && c.tick.value === 0) ? '#808080' : '#c0c0c0',
                lineWidth: c => (c.tick && c.tick.value === 0) ? 2 : 1.5, drawTicks: false },
        border: { color: '#000', width: 1.5 },
        ticks: { crossAlign: 'far', padding: 0, labelOffset: 2, font: { family: FONT, size: 10 } },
        afterBuildTicks: s => { s.ticks = leftTicks.map(v => ({ value: v })); },
        afterFit: s => { s.width = 30; s.paddingTop = 0; s.paddingBottom = 0; }
      },
      yR: {
        position: 'right', min: 78 - 600 / 7, max: 78,
        grid: { drawOnChartArea: false, drawTicks: false },
        border: { color: '#000', width: 1.5 },
        ticks: { crossAlign: 'near', padding: 20, labelOffset: 2, font: { family: FONT, size: 10 } },
        afterBuildTicks: s => { s.ticks = rightTicks.map(v => ({ value: v })); },
        afterFit: s => { s.width = 50; s.paddingTop = 0; s.paddingBottom = 0; }
      },
      yS: { display: false, min: -64.8, max: 2157.4 }
    }
  }
});
</script>
</body></html>
